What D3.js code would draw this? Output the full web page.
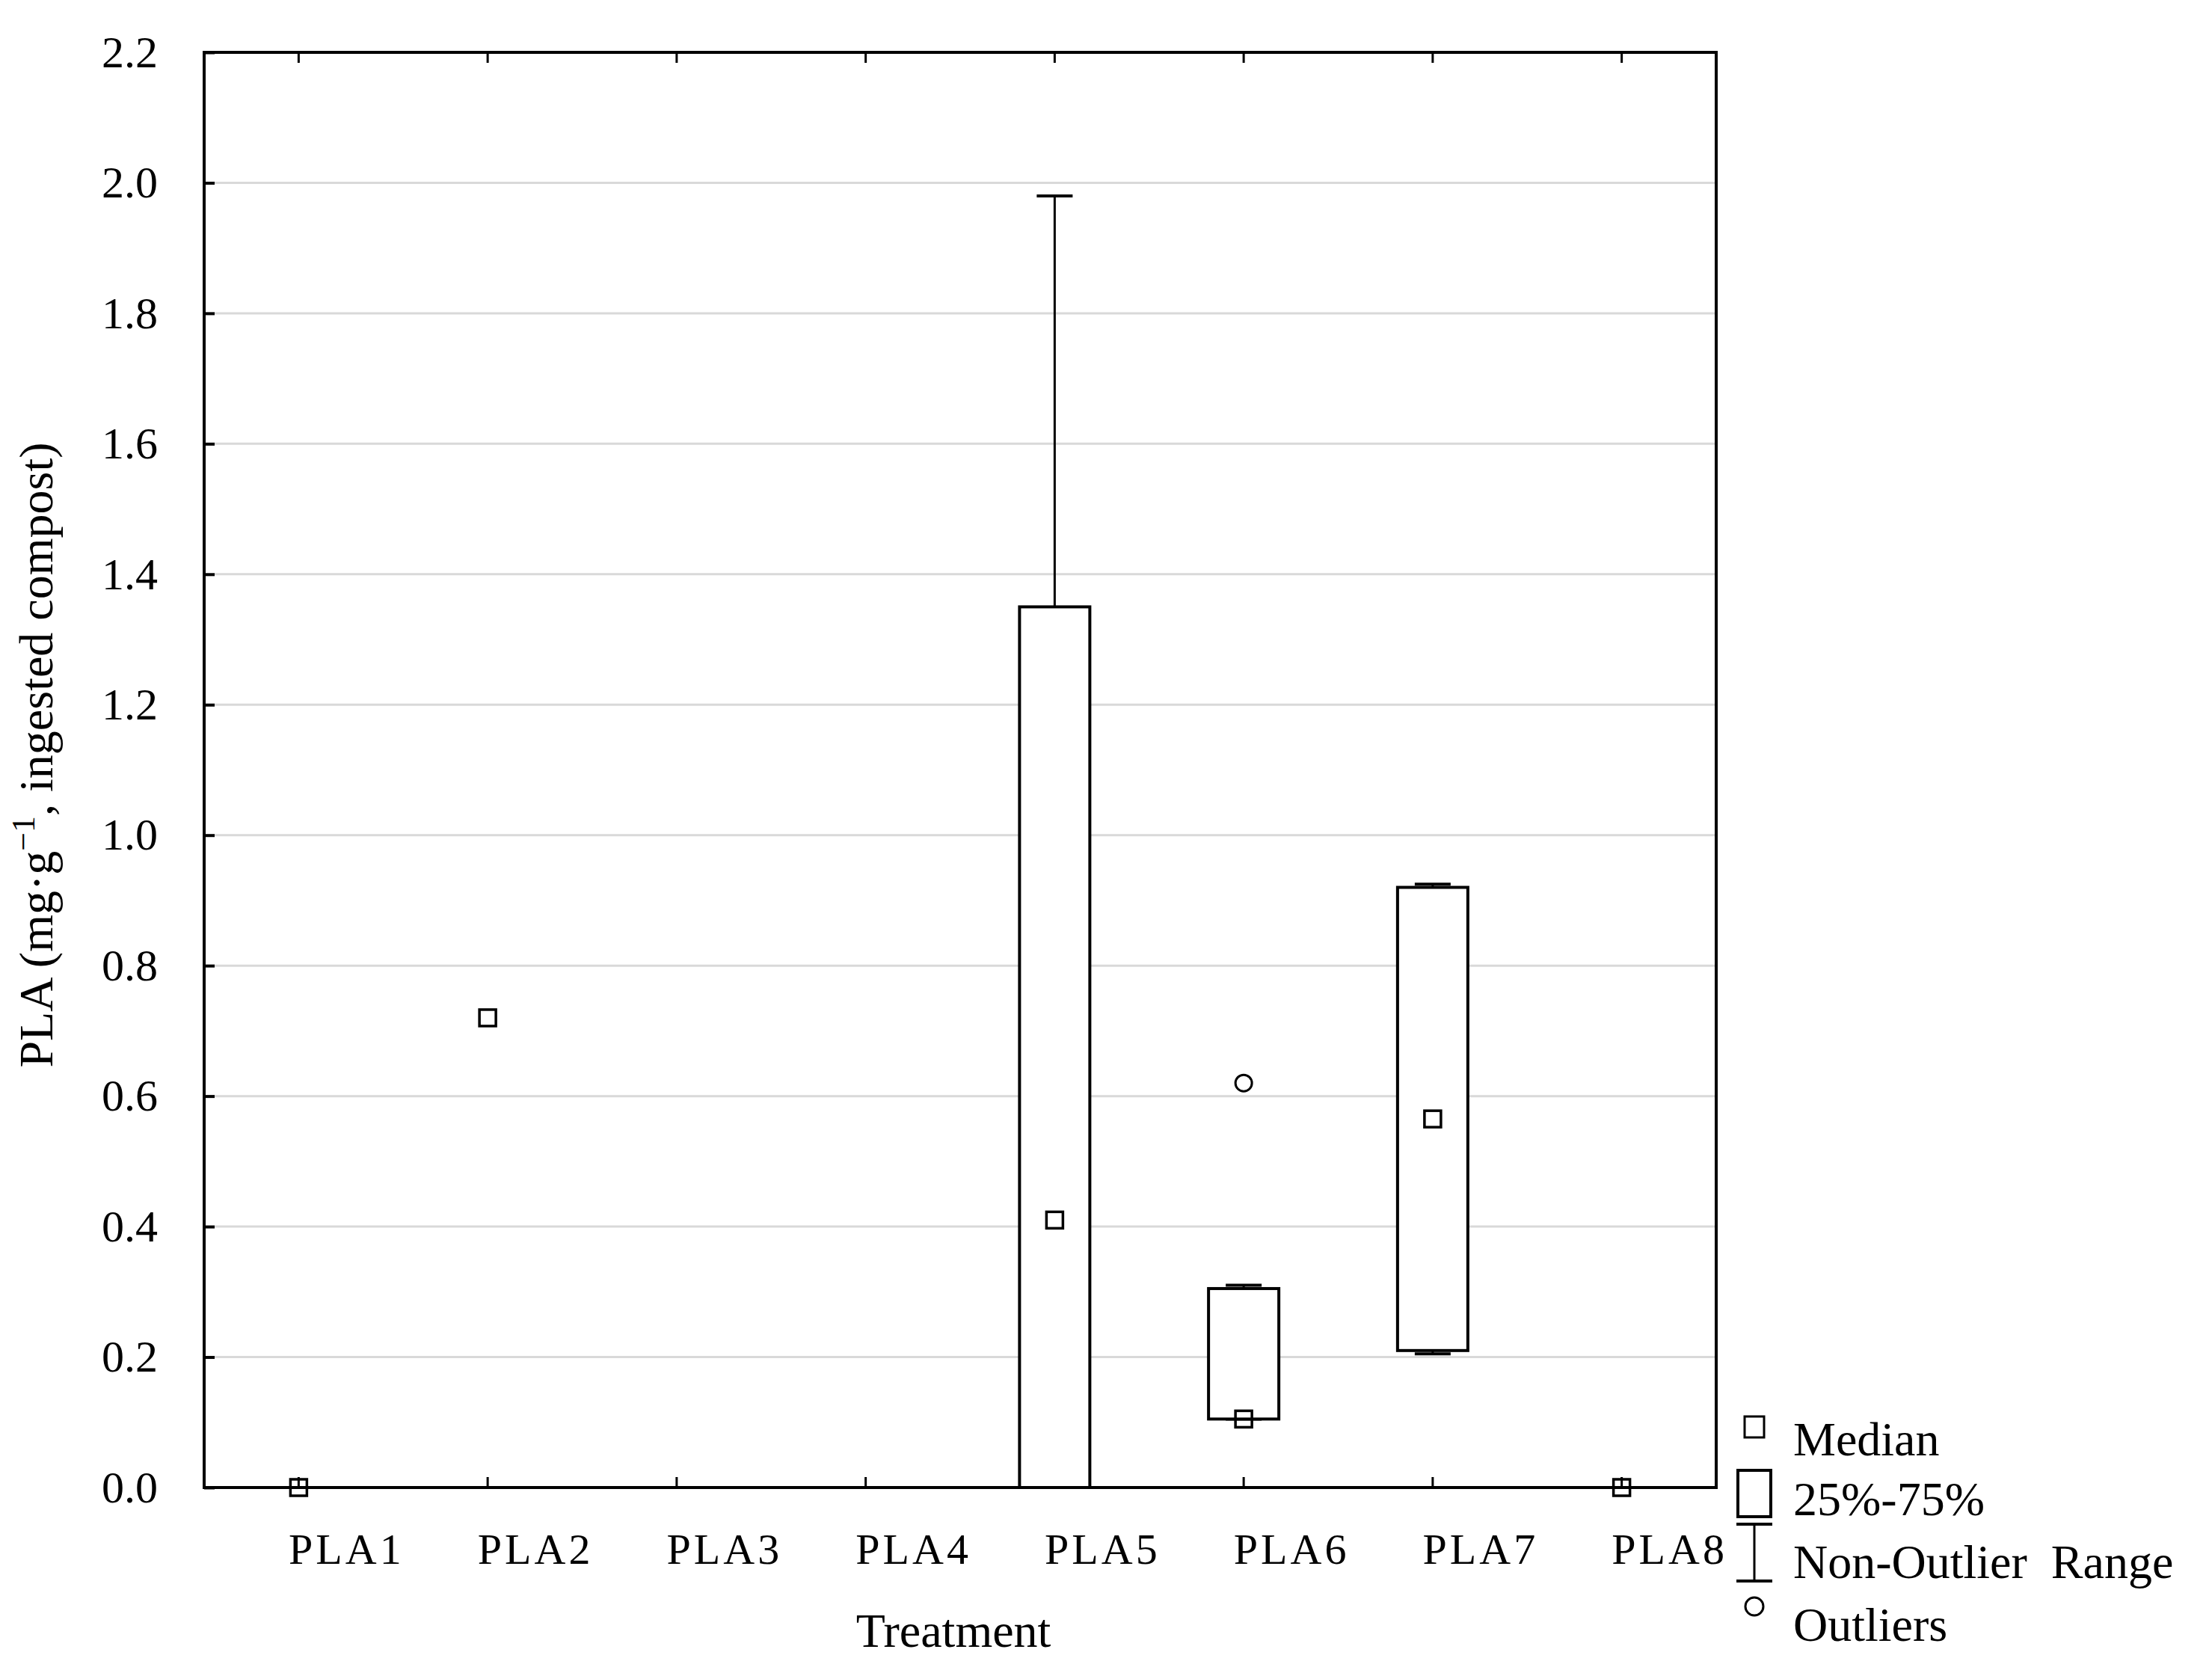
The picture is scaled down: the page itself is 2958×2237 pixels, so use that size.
<!DOCTYPE html>
<html><head><meta charset="utf-8">
<script src="https://cdn.jsdelivr.net/npm/d3@7"></script>
<style>body{margin:0;background:#fff}</style></head>
<body><svg id="c" width="2958" height="2237"></svg>
<script>
const categories=["PLA1","PLA2","PLA3","PLA4","PLA5","PLA6","PLA7","PLA8"];
const medians=[0,0.72,null,null,0.41,0.105,0.565,0];
const q1=[0,null,null,null,0,0.105,0.21,0];
const q3=[0,null,null,null,1.35,0.305,0.92,0];
const wMin=[0,null,null,null,0,0.105,0.205,0];
const wMax=[0,null,null,null,1.98,0.31,0.925,0];
const outliers=[[],[],[],[],[],[0.62],[],[]];
const yTicks=[0,0.2,0.4,0.6,0.8,1.0,1.2,1.4,1.6,1.8,2.0,2.2];

const L=273,R=2295,T=70,B=1989;
const svg=d3.select("#c");
const font="Liberation Serif, Times New Roman, serif";
const x=d3.scaleBand().domain(categories).range([L,R]).padding(0);
const y=d3.scaleLinear().domain([0,2.2]).range([B,T]);
const bw=94, cw=48, ms=22;

svg.append("g").selectAll("line").data(yTicks).join("line")
 .attr("x1",L).attr("x2",R).attr("y1",d=>y(d)).attr("y2",d=>y(d))
 .attr("stroke","#d9d9d9").attr("stroke-width",3);

const ga=svg.append("g").attr("transform",`translate(${L},0)`)
 .call(d3.axisLeft(y).tickValues(yTicks).tickFormat(d3.format(".1f")).tickSizeInner(-14).tickSizeOuter(0).tickPadding(62));
ga.select(".domain").remove();
ga.selectAll("line").attr("stroke","#000").attr("stroke-width",4);
ga.selectAll("text").attr("font-family",font).attr("font-size",60).attr("fill","#000");

const gb=svg.append("g").attr("transform",`translate(0,${B})`)
 .call(d3.axisBottom(x).tickSizeInner(-14).tickSizeOuter(0).tickPadding(82));
gb.select(".domain").remove();
gb.selectAll("line").attr("stroke","#000").attr("stroke-width",3);
gb.selectAll("text").attr("font-family",font).attr("font-size",58).attr("fill","#000").attr("letter-spacing",4).attr("dx",64).attr("dy","0.35em");

svg.append("g").selectAll("line").data(categories).join("line")
 .attr("x1",d=>x(d)+x.bandwidth()/2).attr("x2",d=>x(d)+x.bandwidth()/2)
 .attr("y1",T).attr("y2",T+14).attr("stroke","#000").attr("stroke-width",3);

svg.append("rect").attr("x",L).attr("y",T).attr("width",R-L).attr("height",B-T)
 .attr("fill","none").attr("stroke","#000").attr("stroke-width",4);

const g=svg.append("g");
categories.forEach((c,i)=>{
 const cx=x(c)+x.bandwidth()/2;
 if(q1[i]!==null){
  g.append("line").attr("x1",cx).attr("x2",cx).attr("y1",y(wMax[i])).attr("y2",y(q3[i])).attr("stroke","#000").attr("stroke-width",3);
  g.append("line").attr("x1",cx).attr("x2",cx).attr("y1",y(wMin[i])).attr("y2",y(q1[i])).attr("stroke","#000").attr("stroke-width",3);
  [wMax[i],wMin[i]].forEach(v=>g.append("line").attr("x1",cx-cw/2).attr("x2",cx+cw/2).attr("y1",y(v)).attr("y2",y(v)).attr("stroke","#000").attr("stroke-width",4));
  g.append("rect").attr("x",cx-bw/2).attr("width",bw).attr("y",y(q3[i])).attr("height",Math.max(0,y(q1[i])-y(q3[i])))
   .attr("fill","#fff").attr("fill-opacity",q3[i]===q1[i]?0:1).attr("stroke","#000").attr("stroke-width",4);
 }
 if(medians[i]!==null)
  g.append("rect").attr("x",cx-ms/2).attr("y",y(medians[i])-ms/2).attr("width",ms).attr("height",ms)
   .attr("fill","none").attr("stroke","#000").attr("stroke-width",3.5);
 outliers[i].forEach(v=>g.append("circle").attr("cx",cx).attr("cy",y(v)).attr("r",11).attr("fill","none").attr("stroke","#000").attr("stroke-width",3));
});

svg.append("text").attr("x",1275).attr("y",2202).attr("text-anchor","middle")
 .attr("font-family",font).attr("font-size",64).text("Treatment");
const yt=svg.append("text").attr("transform",`translate(70,${(T+B)/2-20}) rotate(-90)`).attr("text-anchor","middle")
 .attr("font-family",font).attr("font-size",64);
yt.append("tspan").text("PLA (mg·g");
yt.append("tspan").attr("baseline-shift","super").attr("font-size",44).text("−1");
yt.append("tspan").text(", ingested compost)");

// legend
const lx=2346, tx=2398, lg=svg.append("g");
const rows=[1946,2026,2110,2194];
lg.append("rect").attr("x",lx-13).attr("y",rows[0]-52).attr("width",26).attr("height",28).attr("fill","none").attr("stroke","#000").attr("stroke-width",3);
lg.append("rect").attr("x",lx-22).attr("y",rows[1]-60).attr("width",44).attr("height",62).attr("fill","none").attr("stroke","#000").attr("stroke-width",4);
lg.append("line").attr("x1",lx).attr("x2",lx).attr("y1",rows[2]-72).attr("y2",rows[2]+4).attr("stroke","#000").attr("stroke-width",3);
[rows[2]-72,rows[2]+4].forEach(v=>lg.append("line").attr("x1",lx-24).attr("x2",lx+24).attr("y1",v).attr("y2",v).attr("stroke","#000").attr("stroke-width",4));
lg.append("circle").attr("cx",lx).attr("cy",rows[3]-46).attr("r",12).attr("fill","none").attr("stroke","#000").attr("stroke-width",3);
["Median","25%-75%","Non-Outlier  Range","Outliers"].forEach((t,i)=>
 lg.append("text").attr("x",tx).attr("y",rows[i]).attr("font-family",font).attr("font-size",64).style("white-space","pre").text(t));
</script></body></html>
